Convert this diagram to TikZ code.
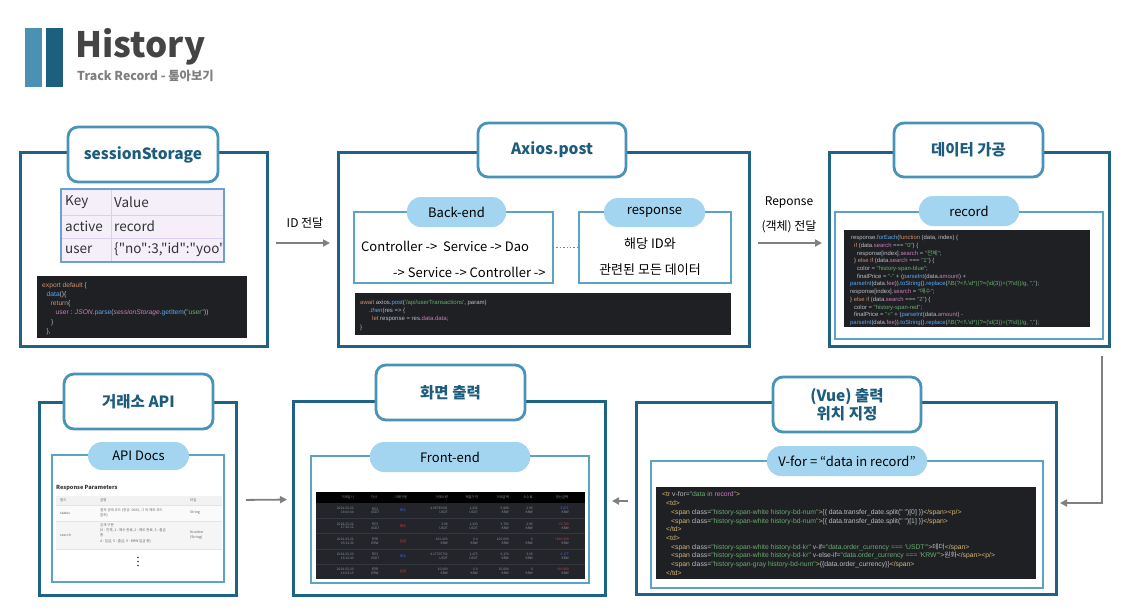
\documentclass[tikz,border=0pt]{standalone}
\usepackage{fontspec}
\setmainfont{Noto Sans CJK KR}
\newfontfamily\krf{Noto Sans CJK KR}
\newfontfamily\codef{Liberation Sans}
\usetikzlibrary{arrows.meta}
\definecolor{panelc}{HTML}{1F6384}
\definecolor{titlec}{HTML}{4A93B8}
\definecolor{titletxt}{HTML}{1D5C7C}
\definecolor{innerc}{HTML}{5BA2C7}
\definecolor{pillc}{HTML}{A3D5F0}
\definecolor{codebg}{HTML}{1F2023}
\definecolor{ctx}{HTML}{BCBEC4}
\definecolor{ckw}{HTML}{CF8E6D}
\definecolor{cfn}{HTML}{56A8F5}
\definecolor{cpr}{HTML}{C77DBB}
\definecolor{cst}{HTML}{6AAB73}
\definecolor{ctg}{HTML}{D5B778}
\definecolor{arrc}{HTML}{808080}
\definecolor{bara}{HTML}{4A91B4}
\definecolor{barb}{HTML}{1C5F7E}
\definecolor{histc}{HTML}{444444}
\definecolor{subc}{HTML}{7F7F7F}
\definecolor{sstfill}{HTML}{F4EFF9}
\definecolor{sstline}{HTML}{DCD0EE}
\definecolor{sstborder}{HTML}{6E9FD3}
\definecolor{rowbg}{HTML}{23252A}
\definecolor{seprow}{HTML}{34373D}
\definecolor{fgray}{HTML}{8E93A3}
\definecolor{buyc}{HTML}{4D6BF5}
\definecolor{sellc}{HTML}{E5403B}
\definecolor{apihd}{HTML}{F2F2F2}
\definecolor{apirow}{HTML}{FAFAFA}
\definecolor{apirowb}{HTML}{F5F5F5}
\definecolor{apiline}{HTML}{E4E4E4}
\definecolor{apitxt}{HTML}{666666}
\newcommand\Ckw[1]{{\color{ckw}#1}}
\newcommand\Cfn[1]{{\color{cfn}#1}}
\newcommand\Cpr[1]{{\color{cpr}#1}}
\newcommand\Cst[1]{{\color{cst}#1}}
\newcommand\Ctg[1]{{\color{ctg}#1}}
\newcommand\BSL{\textbackslash}
\newcommand\bx[7]{%
 \pgfmathsetmacro\bxw{#5-#3}%
 \pgfmathsetmacro\bxh{#6-#4}%
 \pgfmathsetmacro\bxcx{(#3+#5)/2}%
 \pgfmathsetmacro\bxcy{(#4+#6)/2}%
 \node[#2,minimum width=\bxw pt,minimum height=\bxh pt,inner sep=0pt,outer sep=0pt] (#1) at (\bxcx,\bxcy) {#7};}
\newcommand\regex{/\BSL B(?<!\BSL .\BSL d*)(?=(\BSL d\{3\})+(?!\BSL d))/g}
\begin{document}
\begin{tikzpicture}[x=1pt,y=-1pt,
 panel/.style={draw=panelc,line width=3pt},
 titlebox/.style={draw=titlec,line width=2.8pt,fill=white,rounded corners=10pt,text=titletxt,font=\bfseries\fontsize{15.5}{17.5}\selectfont,align=center},
 innerbox/.style={draw=innerc,line width=2pt},
 pill/.style={fill=pillc,rounded corners=14pt,font=\fontsize{13}{15}\selectfont,text=black},
 codebox/.style={fill=codebg},
 code/.style={anchor=north west,inner sep=0pt,align=left,text=ctx},
 body/.style={inner sep=0pt,font=\fontsize{13}{15}\selectfont,text=black},
 lab/.style={inner sep=0pt,font=\fontsize{12}{14}\selectfont,text=black},
 arr/.style={draw=arrc,line width=1.8pt,-{Triangle[length=7pt,width=7pt]}},
 dotline/.style={draw=arrc,line width=1.4pt,dotted},
 sst/.style={inner sep=0pt,anchor=west,font=\krf\fontsize{13.5}{15}\selectfont,text=black!80},
 tcell/.style={inner sep=0pt,font=\krf\fontsize{3.3}{3.6}\selectfont,text=fgray},
 acell/.style={inner sep=0pt,anchor=west,font=\krf\fontsize{3.5}{4}\selectfont,text=apitxt}
]
\useasboundingbox (0,0) rectangle (1126,614);
\fill[white] (0,0) rectangle (1126,614);

% ---------- header ----------
\fill[bara] (25,28) rectangle (42,87);
\fill[barb] (46,28) rectangle (63,87);
\node[anchor=base west,inner sep=0pt,font=\bfseries\fontsize{35}{40}\selectfont,text=histc] (hist) at (75,57) {History};
\node[anchor=base west,inner sep=0pt,font=\bfseries\fontsize{12.3}{14}\selectfont,text=subc] (sub) at (77,80) {Track Record - 톺아보기};

% ---------- panel 1: sessionStorage ----------
\bx{p1}{panel}{20}{152}{267}{346}{}
\bx{t1}{titlebox}{68}{127}{218}{182}{sessionStorage}
\bx{sstab}{fill=sstfill,draw=sstborder,line width=1.8pt}{61}{189}{224}{262}{}
\draw[sstline,line width=1pt] (62,215) -- (223,215) (62,238) -- (223,238) (111,190) -- (111,261);
\node[sst] (k1) at (65,202) {Key};
\node[sst] (v1) at (114,202) {Value};
\node[sst] (k2) at (65,226.5) {active};
\node[sst] (v2) at (114,226.5) {record};
\node[sst] (k3) at (65,250) {user};
\begin{scope}
\clip (112,239) rectangle (222.5,261);
\node[sst] (v3) at (114,250) {\{"no":3,"id":"yoo","};
\end{scope}
\bx{c1}{codebox}{37}{276}{247}{338}{}
\node[code,font=\codef\fontsize{6.7}{9.3}\selectfont] (code1) at (42,282) {%
\Ckw{export default} \{\\
\hspace*{4.5pt}\Cfn{data}()\{\\
\hspace*{8.5pt}\Ckw{return}\{\\
\hspace*{13.5pt}\Cpr{user} : \Cpr{\itshape JSON}.\Cfn{parse}(\Cpr{\itshape sessionStorage}.\Cfn{getItem}(\Cst{"user"}))\\
\hspace*{9pt}\}\\
\hspace*{4.5pt}\},};

% ---------- panel 2: Axios.post ----------
\bx{p2}{panel}{338}{152}{749}{346}{}
\bx{t2}{titlebox}{478}{123}{626}{177}{Axios.post}
\bx{be}{innerbox}{354}{212}{553}{283}{}
\bx{bep}{pill}{407}{197}{506}{227}{Back-end}
\node[body,anchor=west] (bet1) at (361,246) {Controller ->\ \ Service -> Dao};
\node[body,anchor=west] (bet2) at (393,272) {-> Service -> Controller ->};
\bx{rs}{innerbox}{579}{212}{731}{283}{}
\bx{rsp}{pill}{604}{198}{705}{227}{response}
\node[body] (rst1) at (650,244) {해당 ID와};
\node[body] (rst2) at (650,270) {관련된 모든 데이터};
\draw[dotline] (be.east) -- (rs.west);
\bx{c2}{codebox}{355}{293}{731}{335}{}
\node[code,font=\codef\fontsize{6}{8.3}\selectfont] (code2) at (360,299.8) {%
\Ckw{await} axios.\Cfn{post}(\Cst{'/api/userTransactions'}, param)\\
\hspace*{9pt}.\Cfn{\itshape then}(res => \{\\
\hspace*{12pt}\Ckw{let} response = res.\Cpr{data}.\Cpr{data};\\
\}};

% ---------- panel 3: data processing ----------
\bx{p3}{panel}{829}{152}{1109}{346}{}
\bx{t3}{titlebox}{894}{123}{1043}{177}{데이터 가공}
\bx{dt}{innerbox}{835}{212}{1103}{339}{}
\bx{dtp}{pill}{919}{196}{1019}{226}{record}
\bx{c3}{codebox}{844}{230}{1090}{327}{}
\node[code,font=\codef\fontsize{5.9}{7.7}\selectfont] (code3) at (850,235.3) {%
\hspace*{1pt}response.\Cfn{forEach}(\Ckw{function} (data, index) \{\\
\hspace*{4pt}\Ckw{if} (data.\Cpr{search} === \Cst{"0"}) \{\\
\hspace*{7pt}response[index].\Cpr{search} = \Cst{"{\krf 전체}"};\\
\hspace*{4pt}\} \Ckw{else if} (data.\Cpr{search} === \Cst{"1"}) \{\\
\hspace*{7pt}color = \Cst{"history-span-blue"};\\
\hspace*{7pt}finalPrice = \Cst{"-"} + (\Cfn{parseInt}(data.\Cpr{amount}) +\\
\Cfn{parseInt}(data.\Cpr{fee})).\Cfn{toString}().\Cfn{replace}(\Cst{\regex}, \Cst{","});\\
response[index].\Cpr{search} = \Cst{"{\krf 매수}"};\\
\} \Ckw{else if} (data.\Cpr{search} === \Cst{"2"}) \{\\
\hspace*{4pt}color = \Cst{"history-span-red"};\\
\hspace*{4pt}finalPrice = \Cst{"+"} + (\Cfn{parseInt}(data.\Cpr{amount}) -\\
\Cfn{parseInt}(data.\Cpr{fee})).\Cfn{toString}().\Cfn{replace}(\Cst{\regex}, \Cst{","});};

% ---------- panel 4: exchange API ----------
\bx{p4}{panel}{39}{402}{236}{595}{}
\bx{t4}{titlebox}{64}{374}{213}{429}{거래소 API}
\bx{ap}{innerbox}{52}{455}{224}{582}{}
\bx{app}{pill}{88}{442}{189}{470}{API Docs}
\node[inner sep=0pt,anchor=west,font=\krf\bfseries\fontsize{5.6}{6}\selectfont,text=black!80] (rp) at (56,488) {Response Parameters};
\fill[apihd] (56,496) rectangle (222,505);
\fill[apirow] (56,505) rectangle (222,521);
\fill[apirowb] (56,521) rectangle (222,549);
\draw[apiline,line width=0.5pt] (56,505) -- (222,505) (56,521) -- (222,521) (56,549) -- (222,549);
\node[acell] (ah1) at (60,500.5) {필드};
\node[acell] (ah2) at (100,500.5) {설명};
\node[acell] (ah3) at (190,500.5) {타입};
\node[acell] (a11) at (60,513) {status};
\node[acell] (a12) at (100,510.5) {결과 상태 코드 (정상: 0000, 그 외 에러 코드};
\node[acell] (a12b) at (100,515.5) {참조)};
\node[acell] (a13) at (190,513) {String};
\node[acell] (a21) at (60,535) {search};
\node[acell] (a22) at (100,525.5) {검색 구분};
\node[acell] (a22b) at (100,530.5) {(0 : 전체, 1 : 매수 완료, 2 : 매도 완료, 3 : 출금};
\node[acell] (a22c) at (100,535.5) {중};
\node[acell] (a22d) at (100,541) {4 : 입금, 5 : 출금, 9 : KRW 입금 중)};
\node[acell] (a23) at (190,532.5) {Number};
\node[acell] (a23b) at (190,537.5) {(String)};
\foreach \dy in {557.5,561.5,565.5} \fill[black!80] (138,\dy) circle (0.9);

% ---------- panel 5: screen output ----------
\bx{p5}{panel}{293}{401}{605}{595}{}
\bx{t5}{titlebox}{376}{365}{525}{420}{화면 출력}
\bx{fe}{innerbox}{311}{456}{589}{583}{}
\bx{fep}{pill}{370}{442}{530}{472}{Front-end}
\bx{ft}{fill=rowbg}{316}{492}{585}{579}{}
\fill[black] (316,492) rectangle (585,503);
\draw[seprow,line width=0.7pt] (316,518.3) -- (585,518.3) (316,533.7) -- (585,533.7) (316,549) -- (585,549) (316,564) -- (585,564);
\node[tcell,anchor=east] (fh1) at (354,497.7) {거래일시};
\node[tcell] (fh2) at (374,497.7) {자산};
\node[tcell] (fh3) at (401,497.7) {거래구분};
\node[tcell,anchor=east] (fh4) at (448,497.7) {거래수량};
\node[tcell,anchor=east] (fh5) at (478,497.7) {체결가격};
\node[tcell,anchor=east] (fh6) at (509,497.7) {거래금액};
\node[tcell] (fh7) at (528,497.7) {수수료};
\node[tcell] (fh8) at (562,497.7) {정산금액};
\foreach \rI/\rY/\rD/\rT/\rA/\rU/\rK/\rC/\rQ/\rP/\rM/\rF/\rS in {
 1/510.6/2024-03-22/18:00:04/테더/USDT/매수/buyc/4.09735081/{1,432}/{5,868}/2.93/{-5,871},
 2/526/2024-03-22/17:20:12/테더/USDT/매도/sellc/3.98/{1,433}/{5,703}/2.85/{+5,700},
 3/541.3/2024-03-21/05:21:30/원화/KRW/입금/sellc/{100,000}/0.0/{100,000}/0/{+100,000},
 4/556.5/2024-03-20/16:12:40/테더/USDT/매수/buyc/4.17705702/{1,473}/{6,174}/3.09/{-6,177},
 5/571.5/2024-03-20/16:03:15/원화/KRW/입금/sellc/{10,000}/0.0/{10,000}/0/{+10,000}} {
 \node[tcell,anchor=east] (fr\rI-d) at (354,\rY-1.8) {\rD};
 \node[tcell,anchor=east] (fr\rI-t) at (354,\rY+1.8) {\rT};
 \node[tcell] (fr\rI-a) at (375,\rY-1.8) {\rA};
 \node[tcell] (fr\rI-u) at (375,\rY+1.8) {\rU};
 \node[tcell,text=\rC] (fr\rI-k) at (403,\rY) {\rK};
 \node[tcell,anchor=east] (fr\rI-q) at (448,\rY-1.8) {\rQ};
 \node[tcell,anchor=east] (fr\rI-qu) at (448,\rY+1.8) {\rU};
 \node[tcell,anchor=east] (fr\rI-p) at (478,\rY-1.8) {\rP};
 \node[tcell,anchor=east] (fr\rI-pu) at (478,\rY+1.8) {\rU};
 \node[tcell,anchor=east] (fr\rI-m) at (509,\rY-1.8) {\rM};
 \node[tcell,anchor=east] (fr\rI-mu) at (509,\rY+1.8) {KRW};
 \node[tcell,anchor=east] (fr\rI-f) at (533,\rY-1.8) {\rF};
 \node[tcell,anchor=east] (fr\rI-fu) at (533,\rY+1.8) {KRW};
 \node[tcell,anchor=east,text=\rC] (fr\rI-s) at (569,\rY-1.8) {\rS};
 \node[tcell,anchor=east] (fr\rI-su) at (569,\rY+1.8) {KRW};
}

% ---------- panel 6: Vue ----------
\bx{p6}{panel}{636}{402}{1056}{594}{}
\bx{t6}{titlebox}{773}{377}{921}{432}{(Vue) 출력\\위치 지정}
\bx{vu}{innerbox}{651}{461}{1043}{588}{}
\bx{vup}{pill}{767}{446}{927}{476}{V-for = “data in record”}
\bx{c4}{codebox}{656}{487}{1036}{579}{}
\node[code,font=\codef\fontsize{6.8}{8.7}\selectfont] (code4) at (662,491.8) {%
\Ctg{<tr} v-for=\Cst{"data} \Cpr{in record}\Cst{"}\Ctg{>}\\
\hspace*{4pt}\Ctg{<td>}\\
\hspace*{9pt}\Ctg{<span} class=\Cst{"history-span-white history-bd-num"}\Ctg{>}\{\{ data.transfer\_date.split(" ")[0] \}\}\Ctg{</span><p/>}\\
\hspace*{9pt}\Ctg{<span} class=\Cst{"history-span-white history-bd-num"}\Ctg{>}\{\{ data.transfer\_date.split(" ")[1] \}\}\Ctg{</span>}\\
\hspace*{4pt}\Ctg{</td>}\\
\hspace*{4pt}\Ctg{<td>}\\
\hspace*{9pt}\Ctg{<span} class=\Cst{"history-span-white history-bd-kr"} v-if=\Cst{"data.order\_currency === 'USDT'"}\Ctg{>}{\krf 테더}\Ctg{</span>}\\
\hspace*{9pt}\Ctg{<span} class=\Cst{"history-span-white history-bd-kr"} v-else-if=\Cst{"data.order\_currency === 'KRW'"}\Ctg{>}{\krf 원화}\Ctg{</span><p/>}\\
\hspace*{9pt}\Ctg{<span} class=\Cst{"history-span-gray history-bd-num"}\Ctg{>}\{\{data.order\_currency\}\}\Ctg{</span>}\\
\hspace*{4pt}\Ctg{</td>}};

% ---------- connectors ----------
\node[lab] (l1) at (305,223) {ID 전달};
\draw[arr,shorten <=9pt,shorten >=8pt] ([yshift=6pt]p1.east) -- ([yshift=6pt]p2.west);
\node[lab] (l2) at (789,202) {Reponse};
\node[lab] (l3) at (789,227) {(객체) 전달};
\draw[arr,shorten <=9pt,shorten >=7pt] ([yshift=6pt]p2.east) -- ([yshift=6pt]p3.west);
\draw[arr,shorten <=10pt,shorten >=4pt] ([xshift=133pt]p3.south) |- ([yshift=-5pt]p6.east);
\draw[arr,shorten <=8pt,shorten >=7pt] ([yshift=-3pt]p6.west) -- ([yshift=-3pt]p5.east);
\draw[arr,shorten <=10pt,shorten >=6pt] ([yshift=-1.5pt]p4.east) -- ([yshift=-1.5pt]p5.west);
\end{tikzpicture}
\end{document}
